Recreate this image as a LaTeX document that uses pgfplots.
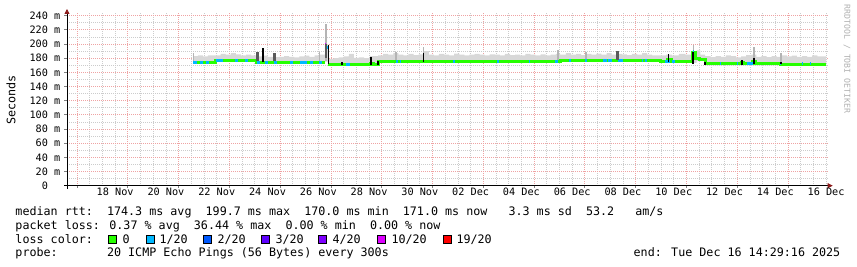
\documentclass[border=0pt]{standalone}
\usepackage{fontspec}
\setmainfont{DejaVu Sans Mono}
\usepackage{pgfplots}
\usepackage{pgfplotstable}
\pgfplotsset{compat=1.18}
\usetikzlibrary{arrows.meta}

\definecolor{lc0}{HTML}{26FF00}
\definecolor{lc1}{HTML}{00B8FF}
\definecolor{lc2}{HTML}{0059FF}
\definecolor{lc3}{HTML}{5E00FF}
\definecolor{lc4}{HTML}{7E00FF}
\definecolor{lc10}{HTML}{DD00FF}
\definecolor{lc19}{HTML}{FF0000}
\definecolor{mgrid}{HTML}{EFA3A3}
\definecolor{sgrid}{HTML}{CCCCCC}
\definecolor{smokec}{HTML}{D8D8D8}
\definecolor{arrowc}{HTML}{8B1A1A}
\definecolor{wmark}{HTML}{B0B0B0}

% t = days since Sun Nov 16 14:29:16 2025 (graph start)
\pgfplotstableread{
t lo hi
4.963 173 183
5.150 173 184
5.350 173 182.5
5.550 173 184
5.829 175 184
6.050 175 186
6.250 175 185
6.450 175 187
6.650 175 185.5
6.850 175 184
7.050 175 185
7.250 175 184
7.483 173 182.5
7.700 173 183.5
7.900 173 182
8.100 173 181.5
8.350 173 182
8.550 173 183
8.750 173 182
8.950 173 181
9.150 173 182.5
9.350 173 183.5
9.550 173 182
9.750 173 184
9.950 173 185
10.161 175 200
10.300 169.5 179
10.500 169.5 180
10.700 169.5 181
10.900 169 182.5
11.100 169 186
11.300 169 180.5
11.500 169 181
11.700 169 180
11.934 170 183
12.249 174 184
12.450 174 186
12.650 174 185
12.850 174 187
13.050 174 185
13.250 174 184
13.450 174 186
13.650 174 184.5
13.850 174 185.5
14.050 174 190
14.250 174 185
14.450 174 184
14.650 174 186
14.850 174 185
15.050 174 184
15.250 174 186.5
15.450 174 185
15.650 174 184
15.850 174 185
16.050 174 186
16.250 174 185
16.450 174 184
16.650 174 185.5
16.850 174 185
17.050 174 184
17.250 174 186
17.450 174 184.5
17.650 174 185
17.850 174 184
18.050 174 186
18.250 174 185
18.450 174 184
18.650 174 185.5
18.850 174 184
19.050 174 185
19.250 174 186
19.417 175.5 185
19.650 175.5 187
19.850 175.5 185
20.050 175.5 186
20.250 175.5 184.5
20.450 175.5 186
20.650 175.5 185
20.850 175.5 186.5
21.050 175.5 185
21.250 175.5 187
21.450 175.5 185
21.650 175.5 186
21.850 175.5 185.5
22.050 175.5 184.5
22.250 175.5 186
22.450 175.5 185
22.650 175.5 187
22.850 175.5 185
23.050 175.5 184
23.356 174.5 184
23.600 174 185
23.828 173.5 184
24.100 173.5 186
24.350 173.5 185
24.600 173.5 190
24.800 176 191
24.950 176 185
25.128 170 183
25.350 170 181.5
25.550 170 183
25.750 170 182
25.950 170 184
26.150 170 183
26.350 170 181
26.550 170 182.5
26.750 170 184.5
26.950 170 185
27.150 170 182
27.350 170 183
27.550 170 181.5
27.750 170 183
27.950 170 182
28.150 170 184
28.350 170 182.5
28.550 170 183.5
28.750 170 182
28.950 170 183
29.150 170 182
29.350 170 184
29.550 170 182.5
29.894 170 182.5
}\smoketab

\pgfplotstableread{
t v
4.963 174.5
5.829 176.5
7.483 174.5
10.161 174.5
nan nan
10.280 171.5
10.831 170.5
11.934 173
12.091 171
12.249 175.5
19.417 177
23.356 176
23.650 178
23.790 175
24.620 188
24.740 179
24.900 177.5
25.128 172
26.560 174.5
26.660 172
27.000 176
27.120 172
28.082 171.5
29.894 171.5
}\mediantab

\pgfplotstableread{
t v
4.963 174.5
5.120 174.5
nan nan
5.238 174.5
5.356 174.5
nan nan
5.475 174.5
5.593 174.5
nan nan
5.868 176.5
6.144 176.5
nan nan
6.617 176.5
6.735 176.5
nan nan
7.011 176.5
7.129 176.5
nan nan
7.483 174.5
7.601 174.5
nan nan
7.720 192
7.760 192
nan nan
7.798 174.5
7.917 174.5
nan nan
8.153 174.5
8.271 174.5
nan nan
8.783 174.5
8.901 174.5
nan nan
9.177 174.5
9.453 174.5
nan nan
9.571 174.5
9.689 174.5
nan nan
9.925 174.5
10.043 174.5
nan nan
10.220 195
10.290 195
nan nan
10.989 170.5
11.146 170.5
nan nan
11.950 176
12.030 176
nan nan
12.958 175.5
13.040 175.5
nan nan
13.115 175.5
13.155 175.5
nan nan
15.203 175.5
15.282 175.5
nan nan
16.936 175.5
17.015 175.5
nan nan
18.196 175.5
18.240 175.5
nan nan
19.220 175.5
19.338 175.5
nan nan
19.772 177
19.850 177
nan nan
20.402 177
20.480 177
nan nan
21.111 177
21.268 177
nan nan
21.308 177
21.465 177
nan nan
21.701 177
21.898 177
nan nan
22.647 177
22.686 177
nan nan
22.765 177
22.844 177
nan nan
23.553 175
23.749 175
nan nan
23.828 175
23.946 175
nan nan
24.640 190
24.700 190
nan nan
25.719 172
25.760 172
nan nan
26.388 172
26.430 172
nan nan
26.782 172
27.018 172
nan nan
28.082 172
28.121 172
nan nan
28.948 172
28.990 172
nan nan
29.263 172
29.300 172
}\bluetab

\pgfplotstableread{
t v
10.161 200
10.220 200
}\magtab

\pgfplotstableread{
t v
4.970 174
4.970 188
nan nan
9.960 176
9.960 189
nan nan
10.200 176
10.200 228
nan nan
12.960 176
12.960 189
nan nan
14.040 186
14.040 196
nan nan
19.340 176
19.340 191.5
nan nan
20.440 176
20.440 189
nan nan
24.680 188
24.680 198.5
nan nan
27.060 179
27.060 196
nan nan
28.120 174
28.120 187
}\lighttab

\pgfplotstableread{
t v
7.500 176
7.500 189
nan nan
8.170 176
8.170 188
nan nan
21.680 177
21.680 190
nan nan
10.200 180
10.200 200
}\darktab

\pgfplotstableread{
t v
7.720 175
7.720 194
nan nan
10.290 172
10.290 199
nan nan
10.831 170
10.831 175
nan nan
11.970 171
11.970 182
nan nan
12.250 171
12.250 176
nan nan
14.040 175
14.040 187
nan nan
23.700 175
23.700 186
nan nan
24.660 172
24.660 189
nan nan
25.128 171
25.128 175
nan nan
26.585 171
26.585 177
nan nan
27.060 172
27.060 180
nan nan
28.120 172
28.120 175
}\blacktab

\newcommand{\lfont}{\fontsize{11.7}{13}\selectfont}
\newcommand{\afont}{\fontsize{10.2}{12}\selectfont}

\pgfplotsset{
  chartframe/.style={
    at={(67pt,81.3pt)}, anchor=south west,
    scale only axis, width=761.7pt, height=172.7pt,
    xmin=0, xmax=30, ymin=0, ymax=243.8,
  },
  hiddenaxis/.style={chartframe, axis lines=none, ticks=none, clip=false},
}

\begin{document}
\begin{tikzpicture}
\path[use as bounding box] (0pt,0pt) rectangle (857pt,267pt);
% frame, grid and labels
\begin{axis}[
  chartframe,
  axis lines=left,
  axis line style={draw=black, line width=0.8pt, shorten <=-3pt, shorten >=-4pt,
    -{Triangle[length=5pt,width=5pt,color=arrowc,fill=arrowc]}},
  grid=both,
  major grid style={draw=mgrid, line width=0.8pt, dash pattern=on 1pt off 1pt},
  minor grid style={draw=sgrid, line width=0.8pt, dash pattern=on 1pt off 1pt},
  xtick={0.397,2.397,...,28.4},
  minor xtick={0.397,0.897,...,29.9},
  xticklabels={},
  extra x ticks={1.897,3.897,...,29.9},
  extra x tick labels={18 Nov,20 Nov,22 Nov,24 Nov,26 Nov,28 Nov,30 Nov,02 Dec,04 Dec,06 Dec,08 Dec,10 Dec,12 Dec,14 Dec,16 Dec},
  extra x tick style={grid=none, major tick length=0pt},
  ytick={0,20,...,240},
  minor ytick={10,30,...,230},
  yticklabels={0\phantom{\ m},20 m,40 m,60 m,80 m,100 m,120 m,140 m,160 m,180 m,200 m,220 m,240 m},
  major tick length=2.5pt, minor tick length=0pt,
  tick align=outside,
  tick style={draw=gray, line width=0.8pt},
  xticklabel style={font=\afont, inner sep=0pt, anchor=base, yshift=-10pt},
  yticklabel style={font=\afont, inner sep=0pt, anchor=east, xshift=-4pt},
]
\addplot[draw=none, forget plot] coordinates {(0,0) (30,0)};
\end{axis}
% smoke (stacked area between lowest and highest ping)
\begin{axis}[hiddenaxis, stack plots=y]
\addplot[draw=none, fill=none, const plot, forget plot] table[x=t,y=lo]{\smoketab} \closedcycle;
\addplot[draw=none, fill=smokec, const plot, forget plot] table[x=t,y expr=\thisrow{hi}-\thisrow{lo}]{\smoketab} \closedcycle;
\end{axis}
% median line coloured by loss, and spikes
\begin{axis}[hiddenaxis, unbounded coords=jump]
\addplot[draw={rgb,255:red,180;green,180;blue,180}, line width=1.2pt, forget plot] table[x=t,y=v]{\lighttab};
\addplot[draw=lc0, line width=3pt, const plot, forget plot] table[x=t,y=v]{\mediantab};
\addplot[draw=lc1, line width=3pt, line cap=butt, forget plot] table[x=t,y=v]{\bluetab};
\addplot[draw=lc10, line width=3pt, line cap=butt, forget plot] table[x=t,y=v]{\magtab};
\addplot[draw={rgb,255:red,90;green,90;blue,90}, line width=2.2pt, forget plot] table[x=t,y=v]{\darktab};
\addplot[draw=black, line width=1.4pt, forget plot] table[x=t,y=v]{\blacktab};
\end{axis}

% y label
\node[rotate=90, font=\lfont, inner sep=0pt] at (11pt,167.3pt) {Seconds};
% watermark
\node[rotate=-90, font=\fontsize{8.2}{9}\selectfont, text=wmark, inner sep=0pt] at (847pt,208pt) {RRDTOOL / TOBI OETIKER};

% legend lines
\node[anchor=base west, inner sep=0pt, font=\lfont] at (15.3pt,51pt)
  {median rtt:\ \ 174.3 ms avg\ \ 199.7 ms max\ \ 170.0 ms min\ \ 171.0 ms now\ \ \ 3.3 ms sd\ \ 53.2\ \ \ am/s};
\node[anchor=base west, inner sep=0pt, font=\lfont] at (15.3pt,37.3pt)
  {packet loss: 0.37 \% avg\ \ 36.44 \% max\ \ 0.00 \% min\ \ 0.00 \% now};
\node[anchor=base west, inner sep=0pt, font=\lfont] at (15.3pt,23.6pt) {loss color:};
\foreach \bx/\col in {108/lc0, 146/lc1, 203/lc2, 261/lc3, 318/lc4, 377/lc10, 443/lc19}{
  \filldraw[fill=\col, draw=black, line width=0.9pt] (\bx pt,24pt) rectangle ++(8pt,8pt);
}
\foreach \lx/\lab in {123/0, 160/{1/20}, 218/{2/20}, 276/{3/20}, 333/{4/20}, 392/{10/20}, 457/{19/20}}{
  \node[anchor=base west, inner sep=0pt, font=\lfont] at (\lx pt - 0.7pt,23.6pt) {\lab};
}
\node[anchor=base west, inner sep=0pt, font=\lfont] at (15.3pt,10pt)
  {probe:\ \ \ \ \ \ \ 20 ICMP Echo Pings (56 Bytes) every 300s};
\node[anchor=base east, inner sep=0pt, font=\lfont] at (840.5pt,10pt)
  {end: Tue Dec 16 14:29:16 2025};
\end{tikzpicture}
\end{document}
